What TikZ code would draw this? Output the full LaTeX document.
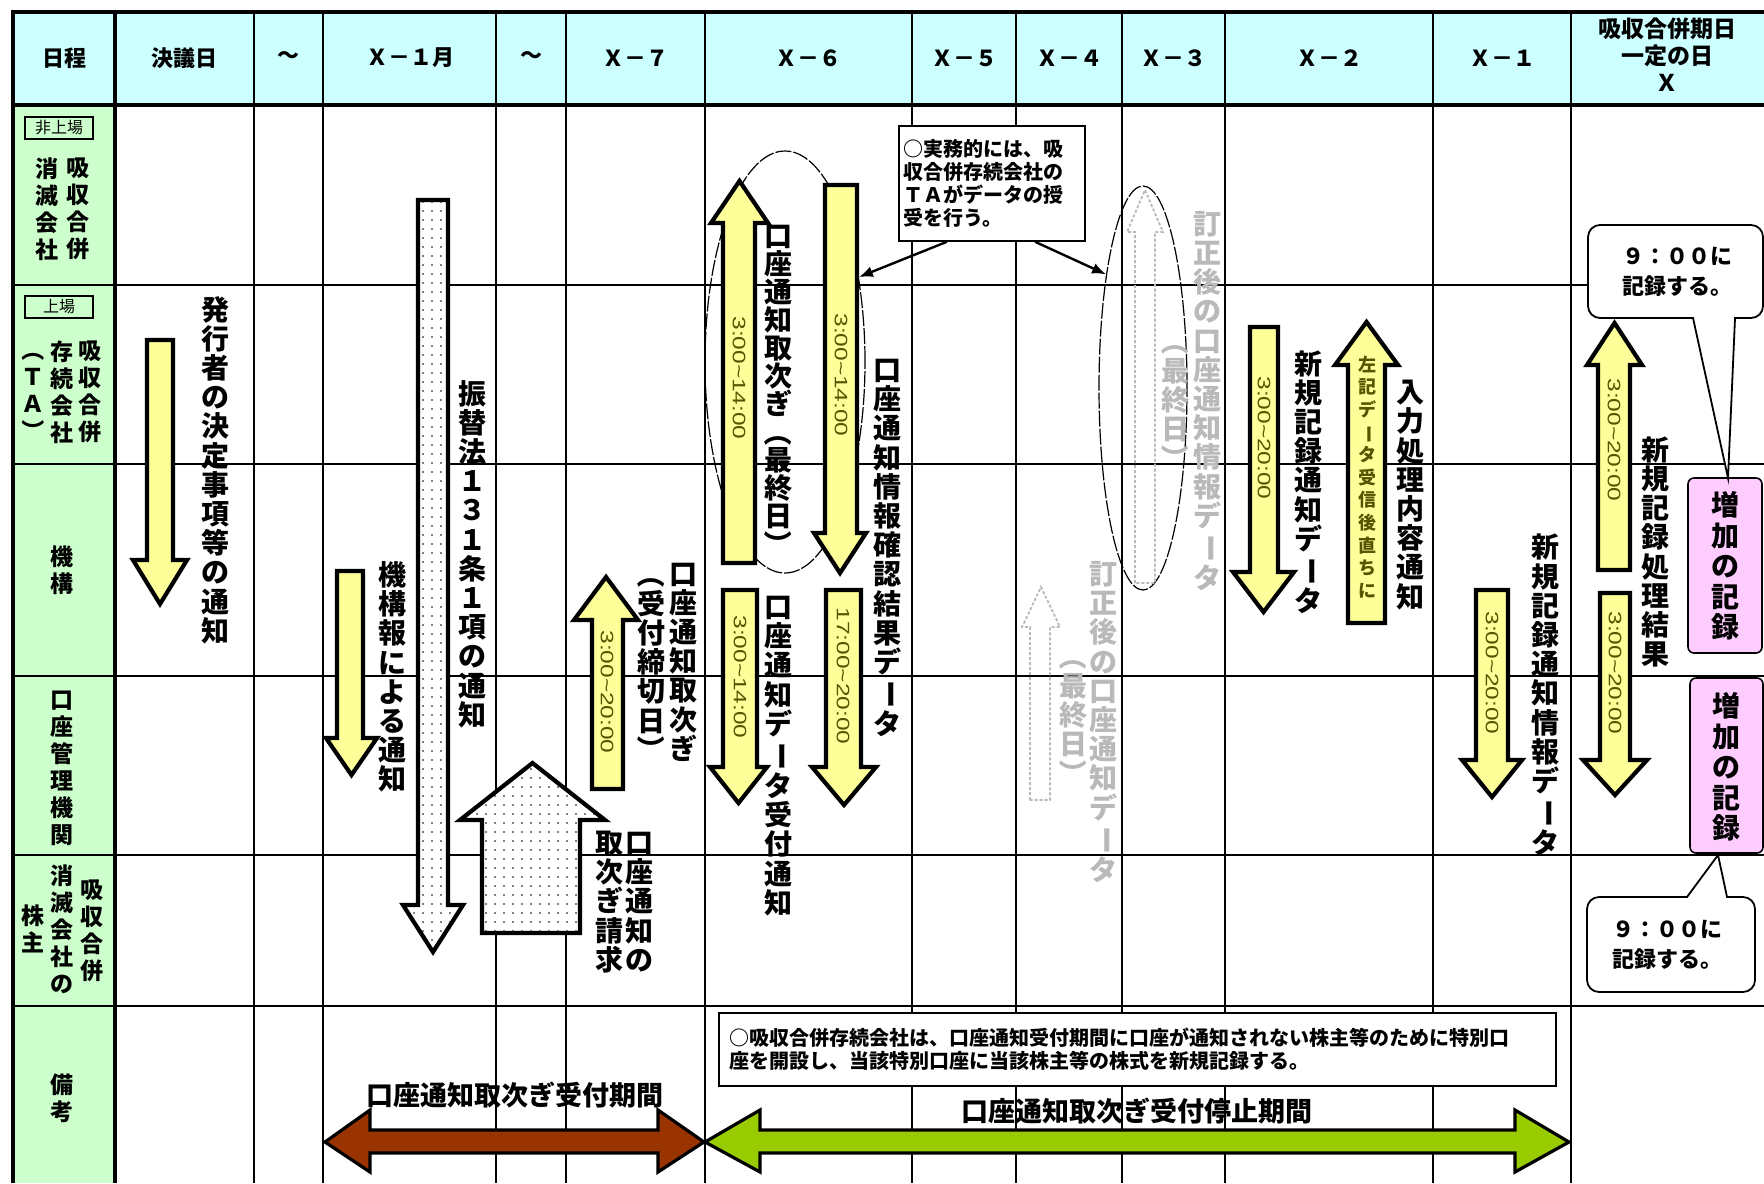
\documentclass[tikz,border=0pt]{standalone}
\usepackage{fontspec}
\usepackage{graphicx}
\setmainfont{Noto Sans CJK JP}
\newfontfamily\latf{Liberation Sans}
\usetikzlibrary{patterns.meta,arrows.meta,shapes.geometric,calc}
\definecolor{hdr}{RGB}{204,255,255}
\definecolor{side}{RGB}{204,255,204}
\definecolor{yel}{RGB}{255,255,153}
\definecolor{pinkbox}{RGB}{255,204,255}
\definecolor{brownar}{RGB}{153,51,0}
\definecolor{greenar}{RGB}{153,204,0}
\definecolor{timec}{RGB}{85,85,0}
\definecolor{fade}{RGB}{185,185,185}
\newcommand{\vchoon}{\rotatebox[origin=c]{-90}{ー}}
\newcommand{\vlpar}{\rotatebox[origin=c]{-90}{（}}
\newcommand{\vrpar}{\rotatebox[origin=c]{-90}{）}}
\newcommand{\tmlab}[1]{\scalebox{1.36}[1]{#1}}
% block arrow: [style]{xl}{xr}{ytail}{yheadbase}{hxl}{hxr}{ytip}
\newcommand{\blockarrow}[8][]{%
  \draw[#1] (#2,#4) -- (#2,#5) -- (#6,#5) -- ({(#6+#7)/2},#8) -- (#7,#5) -- (#3,#5) -- (#3,#4) -- cycle;}
\tikzset{
  gridline/.style={line width=0.9pt,draw=black},
  thickline/.style={line width=2.2pt,draw=black},
  yarrow/.style={fill=yel,draw=black,line width=2.1pt,line join=miter},
  dotarrow/.style={fill=white,draw=black,line width=2.1pt,line join=miter,
    postaction={pattern={Dots[distance=4.5pt,radius=0.45pt]}}},
  fadearrow/.style={draw=fade,line width=0.9pt,dash pattern=on 1.5pt off 1pt},
  ell/.style={draw=black,line width=0.6pt,dash pattern=on 8pt off 1pt},
  hd/.style={font=\bfseries\fontsize{11}{13.5}\selectfont,align=center,inner sep=0pt},
  sidelab/.style={font=\bfseries\fontsize{11.5}{13.5}\selectfont,align=center,inner sep=0pt},
  vlab/.style={font=\bfseries\fontsize{14}{14.6}\selectfont,align=center,inner sep=0pt},
  vsmall/.style={font=\bfseries\fontsize{9}{11.3}\selectfont,align=center,inner sep=0pt,text=timec},
  tmnode/.style={font=\latf\fontsize{9}{9}\selectfont,text=timec,rotate=-90,inner sep=0pt},
  callarrow/.style={line width=1.2pt,-{Latex[length=7pt,width=5.5pt]}},
  bararrow/.style={draw=black,line width=1.6pt,line join=miter},
  calltext/.style={font=\bfseries\fontsize{11}{15}\selectfont,align=center,inner sep=0pt},
  pinkrect/.style={fill=pinkbox,draw=black,line width=0.8pt,rounded corners=3pt},
  tagbox/.style={draw=black,line width=0.8pt,inner sep=0pt,minimum width=34pt,minimum height=11pt,
    font=\fontsize{8}{8}\selectfont},
}
\begin{document}
\begin{tikzpicture}[x=0.5pt,y=-0.5pt]
\useasboundingbox (0,0) rectangle (1764,1183);
\fill[white] (0,0) rectangle (1764,1183);
% backgrounds
\fill[hdr] (13,12) rectangle (1764,105);
\fill[side] (13,105) rectangle (115,1183);
% grid
\foreach \y in {285,464,676,855,1006} \draw[gridline] (13,\y) -- (1764,\y);
\foreach \x in {254,323,496,566,705,912,1016,1122,1225,1433,1571} \draw[gridline] (\x,12) -- (\x,1183);
\draw[thickline] (11,12) -- (1764,12);
\draw[thickline] (11,105) -- (1764,105);
\draw[thickline] (13,12) -- (13,1183);
\draw[thickline] (115,12) -- (115,1183);

% header
\node[hd] (h0) at (64,58) {日程};
\node[hd] (h1) at (184,58) {決議日};
\node[hd] (h2) at (288,58) {～};
\node[hd] (h3) at (410,58) {Ｘ－１月};
\node[hd] (h4) at (531,58) {～};
\node[hd] (h5) at (635,58) {Ｘ－７};
\node[hd] (h6) at (808,58) {Ｘ－６};
\node[hd] (h7) at (964,58) {Ｘ－５};
\node[hd] (h8) at (1069,58) {Ｘ－４};
\node[hd] (h9) at (1173,58) {Ｘ－３};
\node[hd] (h10) at (1329,58) {Ｘ－２};
\node[hd] (h11) at (1502,58) {Ｘ－１};
\node[hd,font=\bfseries\fontsize{11.5}{13.5}\selectfont] (h12) at (1667,55) {吸収合併期日\\一定の日\\Ｘ};

% side column
\node[tagbox] (tg1) at (59,128) {非上場};
\node[tagbox] (tg2) at (59,307) {上場};
\node[sidelab] (s1a) at (78,209) {吸\\収\\合\\併};
\node[sidelab] (s1b) at (47,209) {消\\滅\\会\\社};
\node[sidelab] (s2a) at (90,392) {吸\\収\\合\\併};
\node[sidelab] (s2b) at (62,392) {存\\続\\会\\社};
\node[sidelab] (s2c) at (33,390) {\vlpar\\Ｔ\\Ａ\\\vrpar};
\node[sidelab] (s3) at (62,570) {機\\構};
\node[sidelab] (s4) at (62,768) {口\\座\\管\\理\\機\\関};
\node[sidelab] (s5a) at (92,931) {吸\\収\\合\\併};
\node[sidelab] (s5b) at (62,929) {消\\滅\\会\\社\\の};
\node[sidelab] (s5c) at (33,929) {株\\主};
\node[sidelab] (s6) at (62,1098) {備\\考};

% ellipses
\node[ell,ellipse,minimum width=80pt,minimum height=211pt,inner sep=0pt] (e1) at (785,362) {};
\node[ell,ellipse,minimum width=44pt,minimum height=202pt,inner sep=0pt] (e2) at (1143,388) {};

% arrows
\blockarrow[yarrow]{147}{173}{340}{560}{133}{187}{604}
\blockarrow[dotarrow]{418}{448}{200}{905}{403}{463}{952}
\blockarrow[yarrow]{337}{363}{571}{738}{326}{377}{775}
\blockarrow[dotarrow]{482}{580}{933}{820}{460}{605}{763}
\blockarrow[yarrow]{592}{623}{789}{620}{574}{638}{577}
\blockarrow[yarrow]{723}{755}{563}{223}{711}{768}{181}
\blockarrow[yarrow]{825}{857}{185}{533}{814}{866}{573}
\blockarrow[yarrow]{723}{757}{590}{767}{710}{767}{803}
\blockarrow[yarrow]{826}{861}{590}{767}{812}{876}{805}
\blockarrow[fadearrow]{1135}{1155}{583}{232}{1127}{1163}{190}
\blockarrow[fadearrow]{1030}{1050}{800}{627}{1022}{1060}{587}
\blockarrow[yarrow]{1250}{1278}{327}{572}{1233}{1294}{612}
\blockarrow[yarrow]{1348}{1385}{623}{365}{1335}{1398}{322}
\blockarrow[yarrow]{1476}{1508}{590}{760}{1462}{1522}{797}
\blockarrow[yarrow]{1598}{1630}{570}{365}{1587}{1642}{323}
\blockarrow[yarrow]{1600}{1630}{593}{760}{1583}{1647}{795}

% time labels
\node[tmnode] (t5) at (607,692) {\tmlab{3:00\textasciitilde20:00}};
\node[tmnode] (t6) at (739,378) {\tmlab{3:00\textasciitilde14:00}};
\node[tmnode] (t7) at (841,375) {\tmlab{3:00\textasciitilde14:00}};
\node[tmnode] (t8) at (740,677) {\tmlab{3:00\textasciitilde14:00}};
\node[tmnode] (t9) at (843,676) {\tmlab{17:00\textasciitilde20:00}};
\node[tmnode] (t10) at (1264,438) {\tmlab{3:00\textasciitilde20:00}};
\node[tmnode] (t12) at (1492,673) {\tmlab{3:00\textasciitilde20:00}};
\node[tmnode] (t13) at (1614,440) {\tmlab{3:00\textasciitilde20:00}};
\node[tmnode] (t14) at (1615,673) {\tmlab{3:00\textasciitilde20:00}};

% vertical labels
\node[vlab] (l1) at (215,470) {発\\行\\者\\の\\決\\定\\事\\項\\等\\の\\通\\知};
\node[vlab] (l2) at (472,554) {振\\替\\法\\１\\３\\１\\条\\１\\項\\の\\通\\知};
\node[vlab] (l3) at (392,677) {機\\構\\報\\に\\よ\\る\\通\\知};
\node[vlab] (l4a) at (639,902) {口\\座\\通\\知\\の};
\node[vlab] (l4b) at (609,902) {取\\次\\ぎ\\請\\求};
\node[vlab] (l5a) at (683,662) {口\\座\\通\\知\\取\\次\\ぎ};
\node[vlab] (l5b) at (651,662) {\vlpar\\受\\付\\締\\切\\日\\\vrpar};
\node[vlab,font=\bfseries\fontsize{14}{14}\selectfont] (l6) at (778,392) {口\\座\\通\\知\\取\\次\\ぎ\\\vlpar\\最\\終\\日\\\vrpar};
\node[vlab] (l7) at (887,548) {口\\座\\通\\知\\情\\報\\確\\認\\結\\果\\デ\\\vchoon\\タ};
\node[vlab] (l8) at (778,756) {口\\座\\通\\知\\デ\\\vchoon\\タ\\受\\付\\通\\知};
\node[vlab,text=fade] (l9) at (1207,401) {訂\\正\\後\\の\\口\\座\\通\\知\\情\\報\\デ\\\vchoon\\タ};
\node[vlab,text=fade] (l9b) at (1175,400) {\vlpar\\最\\終\\日\\\vrpar};
\node[vlab,text=fade] (l10) at (1103,722) {訂\\正\\後\\の\\口\\座\\通\\知\\デ\\\vchoon\\タ};
\node[vlab,text=fade] (l10b) at (1073,715) {\vlpar\\最\\終\\日\\\vrpar};
\node[vlab] (l11) at (1308,482) {新\\規\\記\\録\\通\\知\\デ\\\vchoon\\タ};
\node[vsmall] (l12) at (1367,477) {左\\記\\デ\\\vchoon\\タ\\受\\信\\後\\直\\ち\\に};
\node[vlab] (l13) at (1410,495) {入\\力\\処\\理\\内\\容\\通\\知};
\node[vlab] (l14) at (1545,695) {新\\規\\記\\録\\通\\知\\情\\報\\デ\\\vchoon\\タ};
\node[vlab] (l15) at (1655,552) {新\\規\\記\\録\\処\\理\\結\\果};

% note box top
\node[draw=black,fill=white,line width=0.9pt,anchor=north west,inner xsep=2.5pt,inner ysep=0pt,
  text width=88pt,minimum height=57.5pt,align=left,font=\bfseries\fontsize{10}{11.5}\selectfont]
  (n1) at (898,125) {○実務的には、吸\\収合併存続会社の\\ＴＡがデータの授\\受を行う。};
\draw[callarrow] ($(n1.south west)!0.26!(n1.south east)$) -- (e1.49);
\draw[callarrow] ($(n1.south west)!0.73!(n1.south east)$) -- (e2.108);

% pink boxes
\draw[pinkrect] (1688,478) rectangle (1762,653);
\draw[pinkrect] (1690,678) rectangle (1763,853);
\node[vlab,font=\bfseries\fontsize{14}{15.2}\selectfont] (p1) at (1725,566) {増\\加\\の\\記\\録};
\node[vlab,font=\bfseries\fontsize{14}{15.2}\selectfont] (p2) at (1726,767) {増\\加\\の\\記\\録};

% callouts
\draw[line width=0.9pt,fill=white] (1588,272) [rounded corners=6pt] -- (1588,225) -- (1763,225) -- (1763,318)
  [sharp corners] -- (1735,318) -- (1728,478) -- (1693,318) [rounded corners=6pt] -- (1588,318) -- cycle;
\node[calltext] (c1) at (1677,272) {９：００に\\記録する。};
\draw[line width=0.9pt,fill=white] (1587,945) [rounded corners=6pt] -- (1587,897) [sharp corners] -- (1687,897)
  -- (1718,855) -- (1727,897) [rounded corners=6pt] -- (1755,897) -- (1755,992) -- (1587,992) -- cycle;
\node[calltext] (c2) at (1667,945) {９：００に\\記録する。};

% bottom
\draw[bararrow,fill=brownar] (325,1142) -- (370,1110) -- (370,1130) -- (658,1130) -- (658,1110) -- (704,1142)
  -- (658,1172) -- (658,1153) -- (370,1153) -- (370,1172) -- cycle;
\draw[bararrow,fill=greenar] (705,1142) -- (760,1110) -- (760,1130) -- (1515,1130) -- (1515,1110) -- (1569,1142)
  -- (1515,1172) -- (1515,1153) -- (760,1153) -- (760,1172) -- cycle;
\node[font=\bfseries\fontsize{13.5}{13.5}\selectfont,inner sep=0pt] (b1) at (515,1095) {口座通知取次ぎ受付期間};
\node[font=\bfseries\fontsize{13.5}{13.5}\selectfont,inner sep=0pt] (b2) at (1137,1111) {口座通知取次ぎ受付停止期間};
\node[draw=black,fill=white,line width=0.9pt,anchor=north west,inner xsep=5.25pt,inner ysep=0pt,
  text width=408pt,minimum height=36.5pt,align=left,font=\bfseries\fontsize{10}{11.5}\selectfont]
  (n2) at (718,1012) {○吸収合併存続会社は、口座通知受付期間に口座が通知されない株主等のために特別口\\座を開設し、当該特別口座に当該株主等の株式を新規記録する。};
\end{tikzpicture}
\end{document}
